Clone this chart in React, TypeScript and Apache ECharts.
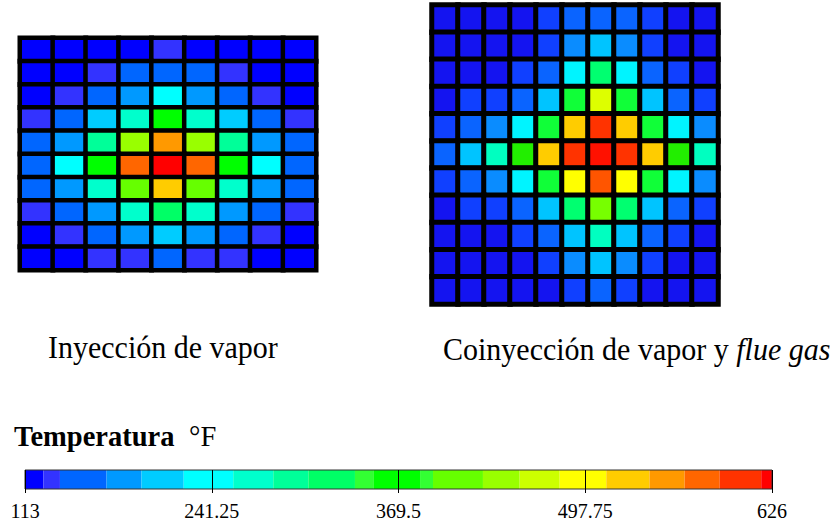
import { useEffect, useRef } from "react";
import * as echarts from "echarts";

// Colour-scale band boundaries (°F)
const bandBounds = [113, 125.6, 137, 169, 193, 222, 256, 283.5, 307.6, 339.6, 352.2, 384.3, 393.2, 427.5, 452.7, 480.2, 512.2, 541.9, 566, 590.1, 618.6, 626];
const tickValues = [113, 241.25, 369.5, 497.75, 626];

// Temperatures (°F), rows top to bottom
const steamTemps = [
  [119, 119, 119, 119, 131, 119, 119, 119, 119],
  [119, 119, 131, 153, 153, 153, 131, 119, 119],
  [119, 131, 153, 181, 239, 181, 153, 131, 119],
  [131, 153, 207, 270, 368, 270, 207, 153, 131],
  [153, 181, 295, 440, 554, 440, 295, 181, 153],
  [153, 239, 368, 578, 622, 578, 368, 239, 153],
  [153, 181, 270, 410, 527, 410, 270, 181, 153],
  [131, 153, 181, 270, 323, 270, 181, 153, 131],
  [119, 131, 153, 181, 207, 181, 153, 131, 119],
  [119, 119, 131, 131, 153, 131, 131, 119, 119],
];

const flueTemps = [
  [119, 119, 119, 119, 131, 153, 153, 153, 131, 119, 119],
  [119, 119, 119, 119, 131, 181, 207, 181, 131, 119, 119],
  [119, 119, 119, 131, 153, 239, 323, 239, 153, 131, 119],
  [119, 131, 131, 153, 207, 346, 466, 346, 207, 153, 131],
  [131, 153, 181, 239, 346, 527, 604, 527, 346, 239, 181],
  [153, 207, 270, 368, 527, 604, 622, 604, 527, 368, 270],
  [131, 153, 181, 239, 346, 496, 578, 496, 346, 239, 181],
  [119, 131, 131, 153, 207, 323, 410, 323, 207, 153, 131],
  [119, 119, 119, 131, 153, 207, 270, 207, 153, 131, 119],
  [119, 119, 119, 119, 131, 181, 207, 181, 131, 119, 119],
  [119, 119, 119, 119, 119, 131, 153, 131, 119, 119, 119],
];

const captionSteam = "Inyección de vapor";
const captionFlue = "Coinyección de vapor y {i|flue gas}";
const legendTitle = "Temperatura";
const legendUnit = "°F";

const leftPalette = ["#0000ff", "#3333ff", "#0066ff", "#0099ff", "#00ccff", "#00ffff", "#00ffcc", "#00ff99", "#00ff66", "#33ff33", "#00ff00", "#33ff33", "#66ff00", "#99ff00", "#ccff00", "#ffff00", "#ffcc00", "#ff9900", "#ff6600", "#ff3300", "#ff0000"];
const rightPalette = ["#1414f0", "#1040ff", "#0a64ff", "#0a8cff", "#00c4ff", "#00f4ff", "#00ffc0", "#00ff99", "#00ff70", "#10ff38", "#22ee00", "#44ff22", "#77ff00", "#99ff00", "#ddff00", "#ffff00", "#ffcc00", "#ff9900", "#ff5500", "#ff3300", "#ff1100"];

const SERIF = "Liberation Serif";

function toCells(g: number[][]) {
  return g.flatMap((row, r) => row.map((v, c) => [c, r, v]));
}
function pieces(palette: string[]) {
  return bandBounds.slice(0, -1).map((b, i) =>
    i === bandBounds.length - 2
      ? { gte: b, lte: bandBounds[i + 1], color: palette[i] }
      : { gte: b, lt: bandBounds[i + 1], color: palette[i] }
  );
}
const idx = (n: number) => Array.from({ length: n }, (_, i) => String(i));

export default function App() {
  const ref = useRef<HTMLDivElement>(null);
  useEffect(() => {
    if (!ref.current) return;
    const chart = echarts.init(ref.current, null, { renderer: "svg" });
    const bands = bandBounds.slice(0, -1).map((b, i) => [b, bandBounds[i + 1]]);
    chart.setOption({
      animation: false,
      grid: [
        { left: 20, top: 38, width: 296, height: 232, show: true, backgroundColor: "#000", borderColor: "#b0b0b0", borderWidth: 1 },
        { left: 432, top: 5, width: 286, height: 299, show: true, backgroundColor: "#000", borderColor: "#a0a0a0", borderWidth: 1 },
        { left: 25, top: 470, width: 747, height: 19, show: true, backgroundColor: "transparent", borderColor: "#333", borderWidth: 1, z: 5 },
      ],
      xAxis: [
        { type: "category", gridIndex: 0, data: idx(9), show: false },
        { type: "category", gridIndex: 1, data: idx(11), show: false },
        {
          type: "value", gridIndex: 2, min: 113, max: 626, z: 6,
          axisLine: { show: false }, splitLine: { show: false },
          axisTick: { show: true, customValues: tickValues, length: 4, lineStyle: { color: "#000" } },
          axisLabel: { customValues: tickValues, fontFamily: SERIF, fontSize: 20, color: "#000", margin: 12, formatter: (v: number) => String(v) },
        },
        {
          type: "value", gridIndex: 2, position: "top", min: 113, max: 626, z: 6,
          axisLine: { show: false }, splitLine: { show: false },
          axisTick: { show: true, inside: true, customValues: tickValues, length: 19, lineStyle: { color: "#000" } },
          axisLabel: { show: false },
        },
      ],
      yAxis: [
        { type: "category", gridIndex: 0, data: idx(10), inverse: true, show: false },
        { type: "category", gridIndex: 1, data: idx(11), inverse: true, show: false },
        { type: "value", gridIndex: 2, min: 0, max: 1, show: false },
      ],
      visualMap: [
        { type: "piecewise", show: false, seriesIndex: 0, dimension: 2, pieces: pieces(leftPalette) },
        { type: "piecewise", show: false, seriesIndex: 1, dimension: 2, pieces: pieces(rightPalette) },
      ],
      series: [
        {
          type: "heatmap", xAxisIndex: 0, yAxisIndex: 0, data: toCells(steamTemps),
          itemStyle: { borderColor: "#000", borderWidth: 4.5 }, emphasis: { disabled: true },
        },
        {
          type: "heatmap", xAxisIndex: 1, yAxisIndex: 1, data: toCells(flueTemps),
          itemStyle: { borderColor: "#000", borderWidth: 5 }, emphasis: { disabled: true },
        },
        {
          type: "custom", xAxisIndex: 2, yAxisIndex: 2, data: bands,
          encode: { x: [0, 1] },
          renderItem: (params: any, api: any) => {
            const p0 = api.coord([api.value(0), 1]);
            const p1 = api.coord([api.value(1), 0]);
            return {
              type: "rect",
              shape: { x: p0[0], y: p0[1], width: p1[0] - p0[0], height: p1[1] - p0[1] },
              style: { fill: leftPalette[params.dataIndex] },
            };
          },
        },
      ],
      graphic: [
        { type: "text", x: 48, y: 347, scaleY: 1.06, style: { text: captionSteam, fontFamily: SERIF, fontSize: 30, fill: "#000", verticalAlign: "middle" } },
        {
          type: "text", x: 443, y: 349, scaleY: 1.06,
          style: {
            text: captionFlue, fontFamily: SERIF, fontSize: 30, fill: "#000", verticalAlign: "middle",
            rich: { i: { fontFamily: SERIF, fontSize: 30, fontStyle: "italic", fill: "#000" } },
          },
        },
        { type: "text", x: 14, y: 436, style: { text: legendTitle, fontFamily: SERIF, fontSize: 28.5, fontWeight: "bold", fill: "#000", verticalAlign: "middle" } },
        { type: "text", x: 189, y: 436, style: { text: legendUnit, fontFamily: SERIF, fontSize: 28.5, fill: "#000", verticalAlign: "middle" } },
      ],
    });
    return () => chart.dispose();
  }, []);
  return <div ref={ref} style={{ position: "absolute", left: 0, top: 0, width: 838, height: 529 }} />;
}
